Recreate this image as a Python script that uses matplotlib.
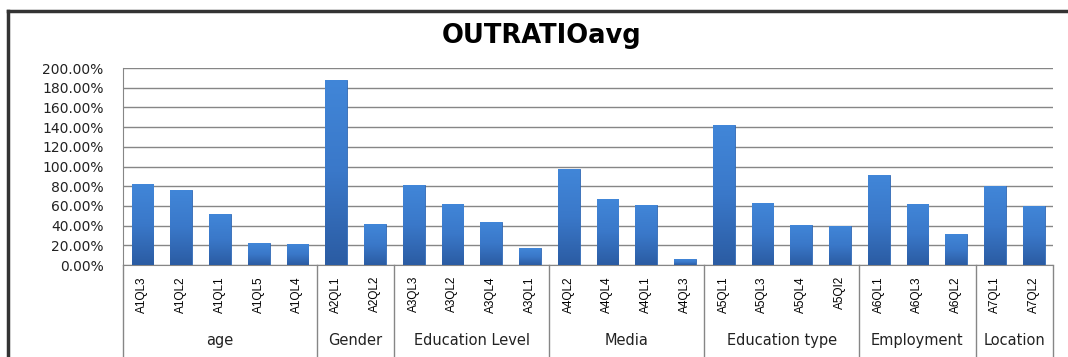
import matplotlib.pyplot as plt
import numpy as np
from matplotlib.ticker import FuncFormatter
from matplotlib.colors import LinearSegmentedColormap

# data
labels = ['A1QL3', 'A1QL2', 'A1QL1', 'A1QL5', 'A1QL4',
          'A2QL1', 'A2QL2',
          'A3QL3', 'A3QL2', 'A3QL4', 'A3QL1',
          'A4QL2', 'A4QL4', 'A4QL1', 'A4QL3',
          'A5QL1', 'A5QL3', 'A5QL4', 'A5QI2',
          'A6QL1', 'A6QL3', 'A6QL2',
          'A7QL1', 'A7QL2']
values = [82, 76, 51.5, 22, 21.5,
          188, 41.5,
          81, 62, 44, 17,
          97, 67, 61, 6,
          142, 63, 41, 40,
          91, 62, 31,
          80, 60]
groups = ['age', 'Gender', 'Education Level', 'Media', 'Education type', 'Employment', 'Location']
group_sizes = [5, 2, 4, 4, 4, 3, 2]

fig = plt.figure(figsize=(10.68, 3.57), dpi=100)
ax = fig.add_axes([0.1152, 0.2577, 0.8708, 0.5518])

x = np.arange(len(labels))
bars = ax.bar(x, values, width=0.56, color='#3a77c6', edgecolor='#3169b5', linewidth=0.6, zorder=3)

# excel-ish gradient fill inside each bar
cmap = LinearSegmentedColormap.from_list('xl', ['#2b5ca3', '#3a78c9', '#4186d8'])
grad = np.linspace(0, 1, 64).reshape(-1, 1)
for b in bars:
    bx, by = b.get_x(), b.get_y()
    im = ax.imshow(grad, cmap=cmap, aspect='auto', origin='lower',
                   extent=[bx, bx + b.get_width(), by, by + b.get_height()], zorder=3.5)
    im.set_clip_path(b)

ax.set_xlim(-0.5, len(labels) - 0.5)
ax.set_ylim(0, 200)
ax.set_yticks(np.arange(0, 201, 20))
ax.yaxis.set_major_formatter(FuncFormatter(lambda v, p: '%.2f%%' % v))
ax.tick_params(axis='y', length=0, labelsize=10, labelcolor='#222222', pad=14)
ax.grid(axis='y', color='#868686', linewidth=1, zorder=0)

for s in ['top', 'right']:
    ax.spines[s].set_visible(False)
ax.spines['left'].set_color('#868686')
ax.spines['bottom'].set_color('#868686')

# category labels
ax.set_xticks(x)
ax.set_xticklabels(labels, rotation=90, fontsize=8.5,
                   family=['Liberation Sans Narrow', 'Liberation Sans', 'DejaVu Sans'])
ax.tick_params(axis='x', length=0, pad=8)

# group labels and separators
tr = ax.get_xaxis_transform()
start = -0.5
bounds = [start]
for g, n in zip(groups, group_sizes):
    mid = start + n / 2.0
    ax.text(mid, -0.385, g, transform=tr, ha='center', va='center', fontsize=10.5, color='#222222')
    start = start + n
    bounds.append(start)
for b in bounds:
    ax.plot([b, b], [0, -0.48], transform=tr, color='#868686', linewidth=1, clip_on=False)

fig.text(0.507, 0.9, 'OUTRATIOavg', ha='center', va='center', fontsize=18.5,
         fontweight='bold', family=['DejaVu Sans'])

# outer frame (left and top)
fig.add_artist(plt.Line2D([0.0075, 0.0075], [0, 0.97], color='#333333', linewidth=2.5))
fig.add_artist(plt.Line2D([0.0075, 1], [0.97, 0.97], color='#333333', linewidth=2.5))

plt.savefig('out.png', dpi=100)
